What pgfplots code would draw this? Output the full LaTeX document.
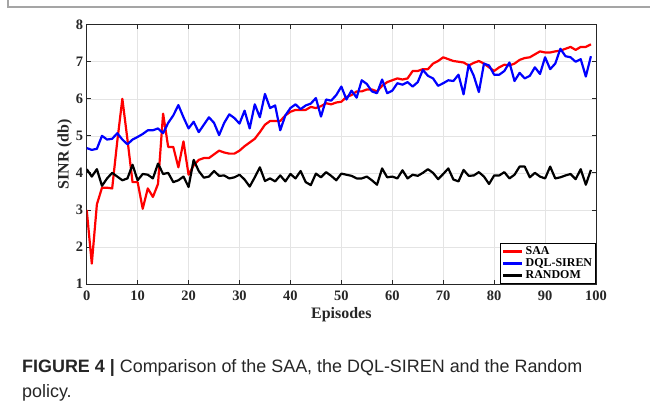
\documentclass[border=0pt]{standalone}
\usepackage{fontspec}
\setmainfont{Liberation Serif}
\newfontfamily\capfont{Liberation Sans}
\usepackage{pgfplots}
\pgfplotsset{compat=1.18}

\definecolor{axgray}{RGB}{38,38,38}
\definecolor{gridgray}{RGB}{228,228,228}
\definecolor{framegray}{RGB}{165,165,165}

\begin{document}
\begin{tikzpicture}[x=1bp,y=1bp]
\useasboundingbox (0,0) rectangle (650,411);
% page frame (top and left edges)
\draw[framegray, line width=1.6bp] (8,411) -- (8,404) -- (650,404);

\begin{axis}[
  at={(86.7bp,127bp)}, anchor=south west,
  scale only axis,
  width=509.3bp, height=259.3bp,
  xmin=0, xmax=100, ymin=1, ymax=8,
  xtick={0,10,...,100}, ytick={1,2,...,8},
  tick align=inside, tick pos=both,
  major tick length=4bp,
  grid=major,
  grid style={gridgray, line width=0.5bp},
  axis line style={axgray, line width=1bp},
  every tick/.style={axgray, line width=0.8bp},
  /pgf/number format/assume math mode=true,
  ticklabel style={font=\bfseries\fontsize{14.5}{14.5}\selectfont, text=axgray},
  xticklabel style={yshift=-3bp},
  xlabel={Episodes}, ylabel={SINR (db)},
  label style={font=\bfseries\fontsize{16}{16}\selectfont, text=axgray},
  xlabel style={yshift=0bp},
  ylabel style={yshift=-3bp},
  legend style={at={(1,0)}, anchor=south east, draw=black, line width=0.8bp,
    font=\bfseries\fontsize{12}{12}\selectfont, inner sep=1.5bp, row sep=-1.5bp,
    legend cell align=left},
  legend image code/.code={\draw[#1, line width=2.6bp] (0bp,0bp) -- (19bp,0bp);},
  every axis plot/.append style={line width=2.2bp, line join=round},
]
\addplot[red] coordinates {
(0,3.0)(1,1.55)(2,3.15)(3,3.6)(4,3.6)(5,3.58)(6,4.85)(7,6.0)(8,4.9)(9,3.75)
(10,3.75)(11,3.03)(12,3.58)(13,3.35)(14,3.7)(15,5.6)(16,4.7)(17,4.7)(18,4.15)(19,4.85)
(20,3.95)(21,4.2)(22,4.35)(23,4.4)(24,4.4)(25,4.5)(26,4.6)(27,4.55)(28,4.52)(29,4.52)
(30,4.6)(31,4.72)(32,4.82)(33,4.92)(34,5.1)(35,5.3)(36,5.4)(37,5.4)(38,5.4)(39,5.55)
(40,5.65)(41,5.7)(42,5.7)(43,5.7)(44,5.78)(45,5.75)(46,5.8)(47,5.88)(48,5.85)(49,5.9)
(50,5.92)(51,6.05)(52,6.1)(53,6.2)(54,6.2)(55,6.25)(56,6.25)(57,6.2)(58,6.35)(59,6.45)
(60,6.5)(61,6.55)(62,6.52)(63,6.55)(64,6.75)(65,6.75)(66,6.8)(67,6.8)(68,6.95)(69,7.02)
(70,7.12)(71,7.07)(72,7.02)(73,7.0)(74,6.98)(75,6.9)(76,6.97)(77,7.02)(78,6.95)(79,6.85)
(80,6.75)(81,6.85)(82,6.92)(83,6.9)(84,6.95)(85,7.05)(86,7.1)(87,7.12)(88,7.2)(89,7.28)
(90,7.25)(91,7.25)(92,7.28)(93,7.3)(94,7.35)(95,7.4)(96,7.32)(97,7.4)(98,7.4)(99,7.47)
};
\addlegendentry{SAA}
\addplot[blue] coordinates {
(0,4.67)(1,4.62)(2,4.65)(3,5.0)(4,4.9)(5,4.92)(6,5.07)(7,4.9)(8,4.77)(9,4.9)
(10,4.97)(11,5.05)(12,5.15)(13,5.15)(14,5.2)(15,5.07)(16,5.35)(17,5.55)(18,5.83)(19,5.5)
(20,5.2)(21,5.38)(22,5.1)(23,5.3)(24,5.5)(25,5.35)(26,5.02)(27,5.35)(28,5.58)(29,5.48)
(30,5.33)(31,5.68)(32,5.2)(33,5.85)(34,5.5)(35,6.13)(36,5.75)(37,5.82)(38,5.15)(39,5.55)
(40,5.75)(41,5.85)(42,5.72)(43,5.82)(44,5.87)(45,6.02)(46,5.52)(47,5.98)(48,5.95)(49,6.1)
(50,6.33)(51,5.98)(52,6.22)(53,6.03)(54,6.5)(55,6.4)(56,6.2)(57,6.15)(58,6.52)(59,6.15)
(60,6.22)(61,6.42)(62,6.38)(63,6.45)(64,6.33)(65,6.45)(66,6.78)(67,6.62)(68,6.55)(69,6.35)
(70,6.42)(71,6.5)(72,6.48)(73,6.65)(74,6.12)(75,6.92)(76,6.62)(77,6.18)(78,6.95)(79,6.9)
(80,6.65)(81,6.65)(82,6.75)(83,6.98)(84,6.48)(85,6.7)(86,6.55)(87,6.62)(88,6.85)(89,6.67)
(90,7.12)(91,6.8)(92,6.95)(93,7.35)(94,7.15)(95,7.12)(96,7.0)(97,7.07)(98,6.6)(99,7.15)
};
\addlegendentry{DQL-SIREN}
\addplot[black] coordinates {
(0,4.1)(1,3.9)(2,4.1)(3,3.65)(4,3.85)(5,4.0)(6,3.9)(7,3.8)(8,3.85)(9,4.22)
(10,3.8)(11,3.97)(12,3.95)(13,3.85)(14,4.25)(15,3.97)(16,4.0)(17,3.75)(18,3.8)(19,3.9)
(20,3.62)(21,4.35)(22,4.05)(23,3.87)(24,3.9)(25,4.05)(26,3.92)(27,3.93)(28,3.85)(29,3.88)
(30,3.95)(31,3.82)(32,3.63)(33,3.88)(34,4.15)(35,3.78)(36,3.85)(37,3.77)(38,3.93)(39,3.77)
(40,3.97)(41,3.85)(42,4.05)(43,3.75)(44,3.67)(45,3.98)(46,3.88)(47,4.02)(48,3.92)(49,3.8)
(50,3.98)(51,3.95)(52,3.92)(53,3.85)(54,3.85)(55,3.9)(56,3.8)(57,3.68)(58,4.12)(59,3.88)
(60,3.9)(61,3.85)(62,4.07)(63,3.85)(64,3.95)(65,3.92)(66,4.0)(67,4.1)(68,4.0)(69,3.83)
(70,3.97)(71,4.12)(72,3.82)(73,3.77)(74,4.08)(75,3.92)(76,3.93)(77,4.02)(78,3.9)(79,3.7)
(80,3.93)(81,3.93)(82,4.02)(83,3.85)(84,3.95)(85,4.17)(86,4.17)(87,3.88)(88,4.0)(89,3.9)
(90,3.85)(91,4.17)(92,3.85)(93,3.88)(94,3.93)(95,3.97)(96,3.83)(97,4.1)(98,3.68)(99,4.08)
};
\addlegendentry{RANDOM}
\end{axis}

% caption
\node[anchor=base west, inner sep=0, text=black!85, font=\capfont\fontsize{18}{18}\selectfont]
  at (22,39) {\textbf{FIGURE 4 |} Comparison of the SAA, the DQL-SIREN and the Random};
\node[anchor=base west, inner sep=0, text=black!85, font=\capfont\fontsize{18}{18}\selectfont]
  at (22,14) {policy.};
\end{tikzpicture}
\end{document}
